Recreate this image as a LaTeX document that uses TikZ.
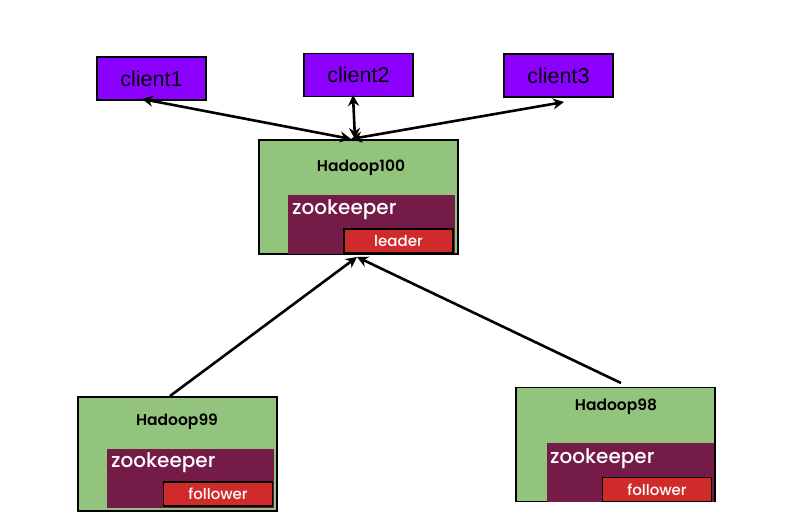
\documentclass[tikz,border=0pt]{standalone}
\usepackage{fontspec}
\setmainfont{Liberation Sans}
\newfontfamily\handfont{Poppins}
\newfontfamily\handfontmed{Poppins Medium}
\newfontfamily\handfontsb{Poppins SemiBold}
\usetikzlibrary{arrows.meta}
\definecolor{clientc}{HTML}{8B00FF}
\definecolor{hostc}{HTML}{93C47D}
\definecolor{zkc}{HTML}{741B47}
\definecolor{rolec}{HTML}{D02B2B}
\tikzset{
  clientbox/.style={draw=black, line width=1.5pt, fill=clientc, minimum width=109pt, minimum height=43pt, inner sep=0pt, font=\fontsize{21.5}{24}\selectfont},
  hostbox/.style={draw=black, line width=1.4pt, fill=hostc, minimum width=199pt, minimum height=114pt, inner sep=0pt},
  zkbox/.style={fill=zkc, minimum width=167pt, minimum height=59pt, inner sep=0pt},
  rolebox/.style={draw=black, line width=1.3pt, fill=rolec, minimum width=109pt, minimum height=24pt, inner sep=0pt, text=white, font=\handfontmed\fontsize{15}{17}\selectfont},
  hosttitle/.style={font=\handfontsb\fontsize{15.5}{17}\selectfont, inner sep=0pt},
  zktext/.style={font=\handfontmed\fontsize{20}{22}\selectfont, text=white, inner sep=0pt, anchor=west},
  conn/.style={line width=2.6pt, -{Stealth[length=11pt,width=11pt]}},
  bconn/.style={line width=2.6pt, {Stealth[length=11pt,width=11pt]}-{Stealth[length=11pt,width=11pt]}},
}
\begin{document}
\begin{tikzpicture}[x=1pt,y=-1pt]
\useasboundingbox (0,0) rectangle (800,527);
% clients
\node[clientbox] (c1) at (151.5,78.5) {client1};
\node[clientbox] (c2) at (358.5,75) {client2};
\node[clientbox] (c3) at (558.5,75.5) {client3};
% Hadoop100
\node[hostbox] (h100) at (358.5,197) {};
\node[hosttitle] (t100) at (361,168) {Hadoop100};
\node[zkbox] (z100) at (371.5,224.5) {};
\node[zktext] (zt100) at (292,210) {zookeeper};
\node[rolebox] (r100) at (398.5,241) {leader};
% Hadoop99
\node[hostbox] (h99) at (177.5,454) {};
\node[hosttitle] (t99) at (177,422) {Hadoop99};
\node[zkbox] (z99) at (190.5,478) {};
\node[zktext] (zt99) at (111,463) {zookeeper};
\node[rolebox] (r99) at (218,494) {follower};
% Hadoop98
\node[hostbox] (h98) at (615.5,444.5) {};
\node[hosttitle] (t98) at (616,407) {Hadoop98};
\node[zkbox] (z98) at (630.5,472) {};
\node[zktext] (zt98) at (550,459) {zookeeper};
\node[rolebox] (r98) at (657,489.5) {follower};
% connector end points
\coordinate (hub) at (351,139);
\coordinate (hub2) at (355,139);
\coordinate (c1e) at (142,99);
\coordinate (c2e) at (353,95);
\coordinate (c3e) at (564,102);
\coordinate (hin) at (357,257);
\coordinate (h99o) at (170,396);
\coordinate (h98o) at (621,383);
% arrows
\draw[bconn] (c1e) -- (hub);
\draw[bconn] (c2e) -- (hub2);
\draw[bconn] (c3e) -- (hub);
\draw[conn] (h99o) -- (hin);
\draw[conn] (h98o) -- (hin);
\end{tikzpicture}
\end{document}
